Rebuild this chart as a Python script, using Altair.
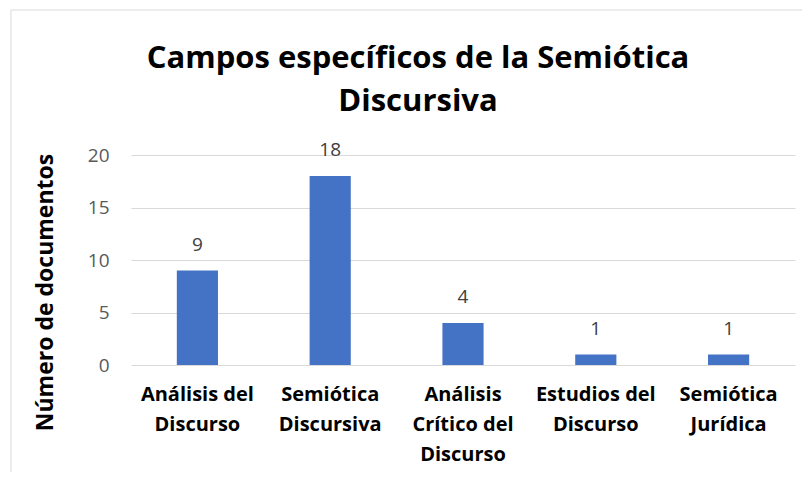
import altair as alt
import pandas as pd

categories = ["Análisis del|Discurso", "Semiótica|Discursiva", "Análisis|Crítico del|Discurso",
              "Estudios del|Discurso", "Semiótica|Jurídica"]
values = [9, 18, 4, 1, 1]
y_ticks = [0, 5, 10, 15, 20]

df = pd.DataFrame({"cat": categories, "n": values})
FONT = "Open Sans"

base = alt.Chart(df).encode(
    x=alt.X("cat:N", sort=categories, title=None,
            scale=alt.Scale(paddingInner=0.69, paddingOuter=0.345),
            axis=alt.Axis(labelExpr="split(datum.label, '|')", labelAngle=0,
                          labelFont=FONT, labelFontSize=20, labelFontWeight="bold",
                          labelColor="#000000", labelLineHeight=30, labelPadding=19,
                          labelBaseline="top",
                          ticks=False, domain=False, grid=False)),
    y=alt.Y("n:Q", title="Número de documentos",
            scale=alt.Scale(domain=[0, 20], nice=False),
            axis=alt.Axis(values=y_ticks, labelFont=FONT, labelFontSize=19,
                          labelColor="#595959", labelPadding=22,
                          ticks=False, domain=False, gridColor="#d9d9d9",
                          titleFont=FONT, titleFontSize=23, titleFontWeight="bold",
                          titleColor="#000000", titleAngle=-90, titleX=-86, titleY=137,
                          titleAlign="center", titleBaseline="middle")),
)

bars = base.mark_bar(color="#4472C4")
labels = base.mark_text(dy=-20, baseline="alphabetic", font=FONT, fontSize=19, color="#404040").encode(
    text="n:Q")

frame = alt.Chart(pd.DataFrame({"a": [0]})).mark_rect(
    fill=None, stroke="#d9d9d9", strokeWidth=1).encode(
    x=alt.value(-120), x2=alt.value(700), y=alt.value(-145), y2=alt.value(340))

chart = alt.layer(frame, bars, labels).properties(
    width=664, height=210,
    autosize=alt.AutoSizeParams(type="none"),
    padding={"left": 123, "top": 147, "right": 7, "bottom": 107},
    title=alt.TitleParams(["Campos específicos de la Semiótica", "Discursiva"],
                          font=FONT, fontSize=31, fontWeight="bold", color="#000000",
                          anchor="middle", frame="group", dx=-45, lineHeight=43, offset=-108),
).configure_view(stroke=None)

chart.save("out.html", embed_options={"renderer": "svg", "actions": False})
